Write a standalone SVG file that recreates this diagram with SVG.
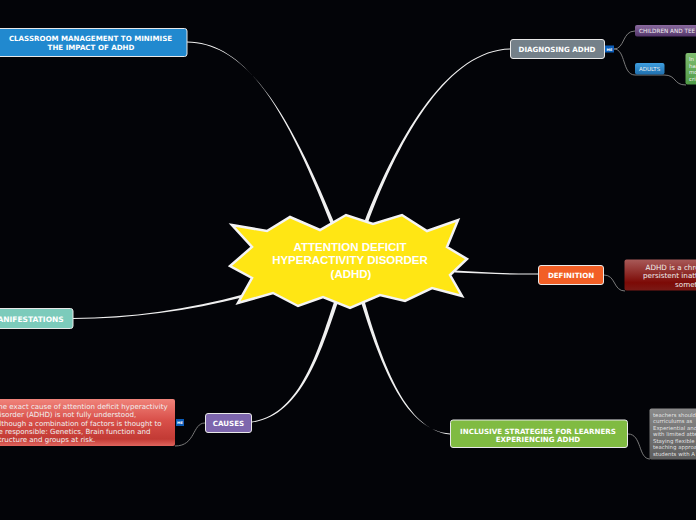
<svg xmlns="http://www.w3.org/2000/svg" width="696" height="520" viewBox="0 0 696 520">
<style>
.t{font-family:"DejaVu Sans",Verdana,sans-serif;font-weight:bold;fill:#fff;font-size:7.1px}
.s{font-family:"DejaVu Sans",Verdana,sans-serif;fill:#f0f0f0}
.m{fill:#0a5cb8}
.mt{font-family:"DejaVu Sans",sans-serif;font-weight:bold;font-size:3.500px;fill:#fff}
.b{stroke:#e8e8e8;stroke-width:1}
.c{fill:#f0f0f0;stroke:none}
.l{fill:none;stroke:#7a7a7a;stroke-width:1}
</style>
<defs>
<linearGradient id="gp" x1="0" y1="0" x2="0" y2="1"><stop offset="0" stop-color="#8a6a9e"/><stop offset="1" stop-color="#53356a"/></linearGradient>
<linearGradient id="gb" x1="0" y1="0" x2="0" y2="1"><stop offset="0" stop-color="#3f9fe0"/><stop offset="1" stop-color="#1f6fae"/></linearGradient>
<linearGradient id="gg" x1="0" y1="0" x2="0" y2="1"><stop offset="0" stop-color="#80bd70"/><stop offset="1" stop-color="#4f9a46"/></linearGradient>
<linearGradient id="gr" x1="0" y1="0" x2="0" y2="1"><stop offset="0" stop-color="#a85a58"/><stop offset="0.75" stop-color="#7c0a06"/><stop offset="1" stop-color="#7a1a16"/></linearGradient>
<linearGradient id="gy" x1="0" y1="0" x2="0" y2="1"><stop offset="0" stop-color="#8a8a8a"/><stop offset="1" stop-color="#5c5c5c"/></linearGradient>
<linearGradient id="gc" x1="0" y1="0" x2="0" y2="1"><stop offset="0" stop-color="#f0837a"/><stop offset="0.45" stop-color="#d9504a"/><stop offset="0.85" stop-color="#c23a34"/><stop offset="1" stop-color="#e0655e"/></linearGradient>
</defs>
<rect width="696" height="520" fill="#030408"/>
<g id="connectors">
<path class="c" d="M187 41.5C250 42 290 120 331.500 226L335 224.500C292 121 250 43 187 42.500Z"/>
<path class="c" d="M510 48.500C450 50 400 130 363.500 224L367 225.500C402 131 450 51 510 49.500Z"/>
<path class="c" d="M538 273.500C510 274 480 272 455 270.500L455 272.500C480 273.500 510 275 538 274.500Z"/>
<path class="c" d="M450 433.500C410 431 385 380 361 302L364.500 301C387 380 411 430 450 434.500Z"/>
<path class="c" d="M252 421.500C300 415 318 350 334 302L337.500 303.500C321 352 301 416 252 422.500Z"/>
<path class="c" d="M73 318C130 318 190 309 243 294.500L244 297C190 310.500 130 319 73 319Z"/>
<path class="l" d="M614 49C625 49 622 31 635 31"/>
<path class="l" d="M614 49C626 49 622 75 635 75H664C677 75 673 85 686 85"/>
<path class="l" d="M604 275C616 275 613 291 625 291"/>
<path class="l" d="M628 434C642 434 638 459 650 459"/>
<path class="l" d="M205 423C192 423 196 446 175 446"/>
</g>
<g id="center">
<polygon points="232,225 267,231 290,217 320,230 346,215 373,224 402,215 427,231 458,220 447,247 467,259 450,275 462,296 432,288 405,301 380,295 350,308 323,297 298,306 273,293 238,303 252,278 230,266 252,247" fill="#ffe614" stroke="#f4f4f4" stroke-width="2.500"/>
<g font-family="'Liberation Sans',Arial,sans-serif" font-weight="bold" font-size="11.500" fill="#fff" text-anchor="middle">
<text x="350" y="251">ATTENTION DEFICIT</text>
<text x="350" y="264">HYPERACTIVITY DISORDER</text>
<text x="351" y="278">(ADHD)</text>
</g>
</g>
<g id="classroom">
<rect x="-6" y="28.500" width="193" height="28" rx="2.500" fill="#2189cf" class="b"/>
<text class="t" x="90.500" y="41" text-anchor="middle">CLASSROOM MANAGEMENT TO MINIMISE</text>
<text class="t" x="91" y="50" text-anchor="middle">THE IMPACT OF ADHD</text>
</g>
<g id="diagnosing">
<rect x="510.500" y="39.500" width="94" height="19" rx="2.500" fill="#748089" class="b"/>
<text class="t" x="557" y="52" text-anchor="middle">DIAGNOSING ADHD</text>
<rect class="m" x="605" y="45.500" width="9" height="7"/>
<text class="mt" x="609.500" y="50.500" text-anchor="middle">ME</text>
</g>
<g id="children">
<rect x="635" y="25" width="70" height="11.500" rx="2" fill="url(#gp)"/>
<text class="s" font-size="5.700" x="639" y="32.500">CHILDREN AND TEE</text>
</g>
<g id="adults">
<rect x="635" y="63" width="29.500" height="11.500" rx="2" fill="url(#gb)"/>
<text class="s" font-size="5.500" x="639" y="71">ADULTS</text>
</g>
<g id="adults-note">
<rect x="685.500" y="53" width="20" height="31.500" rx="2" fill="url(#gg)"/>
<g class="s" font-size="5.500"><text x="689" y="61">In</text><text x="689" y="68">ha</text><text x="689" y="74">mo</text><text x="689" y="81">cri</text></g>
</g>
<g id="definition">
<rect x="538.500" y="265.500" width="65" height="19" rx="2.500" fill="#f25f25" class="b"/>
<text class="t" x="571" y="278" text-anchor="middle">DEFINITION</text>
</g>
<g id="definition-note">
<rect x="624.500" y="259.500" width="80" height="31" rx="2" fill="url(#gr)"/>
<g class="s" font-size="7.200"><text x="645.500" y="269.500">ADHD is a chro</text><text x="643" y="278">persistent inatt</text><text x="675" y="287">somet</text></g>
</g>
<g id="inclusive">
<rect x="450.500" y="420" width="177" height="27.500" rx="2.500" fill="#80bb42" class="b"/>
<text class="t" x="538" y="433.500" text-anchor="middle">INCLUSIVE STRATEGIES FOR LEARNERS</text>
<text class="t" x="538" y="441.500" text-anchor="middle">EXPERIENCING ADHD</text>
</g>
<g id="inclusive-note">
<rect x="649.500" y="408.500" width="56" height="51" rx="2" fill="url(#gy)"/>
<g class="s" font-size="5.400" fill-opacity="0.9"><text x="653" y="417">teachers should</text><text x="653" y="423">curriculums as</text><text x="653" y="430">Experiential and</text><text x="653" y="436">with limited atte</text><text x="653" y="443">Staying flexible</text><text x="653" y="449">teaching approa</text><text x="653" y="456">students with A</text></g>
</g>
<g id="causes">
<rect x="205.500" y="413.500" width="46" height="19" rx="2.500" fill="#7d66ad" class="b"/>
<text class="t" x="228.500" y="426" text-anchor="middle">CAUSES</text>
</g>
<g id="causes-note">
<rect x="-6" y="399" width="181" height="47" rx="2" fill="url(#gc)"/>
<g class="s" font-size="7.050"><text x="-6" y="408.500">The exact cause of attention deficit hyperactivity</text><text x="-5" y="417">disorder (ADHD) is not fully understood,</text><text x="-5" y="425.500">although a combination of factors is thought to</text><text x="-6" y="434">be responsible: Genetics, Brain function and</text><text x="-5" y="442">structure and groups at risk.</text></g>
<rect class="m" x="176" y="419" width="8" height="7"/>
<text class="mt" x="180" y="424" text-anchor="middle">ME</text>
</g>
<g id="manifestations">
<rect x="-30" y="308.500" width="103" height="20" rx="2.500" fill="#7ccbbb" class="b"/>
<text class="t" font-size="7.500" x="-10" y="322" style="font-size:7.500px">MANIFESTATIONS</text>
</g>
</svg>
